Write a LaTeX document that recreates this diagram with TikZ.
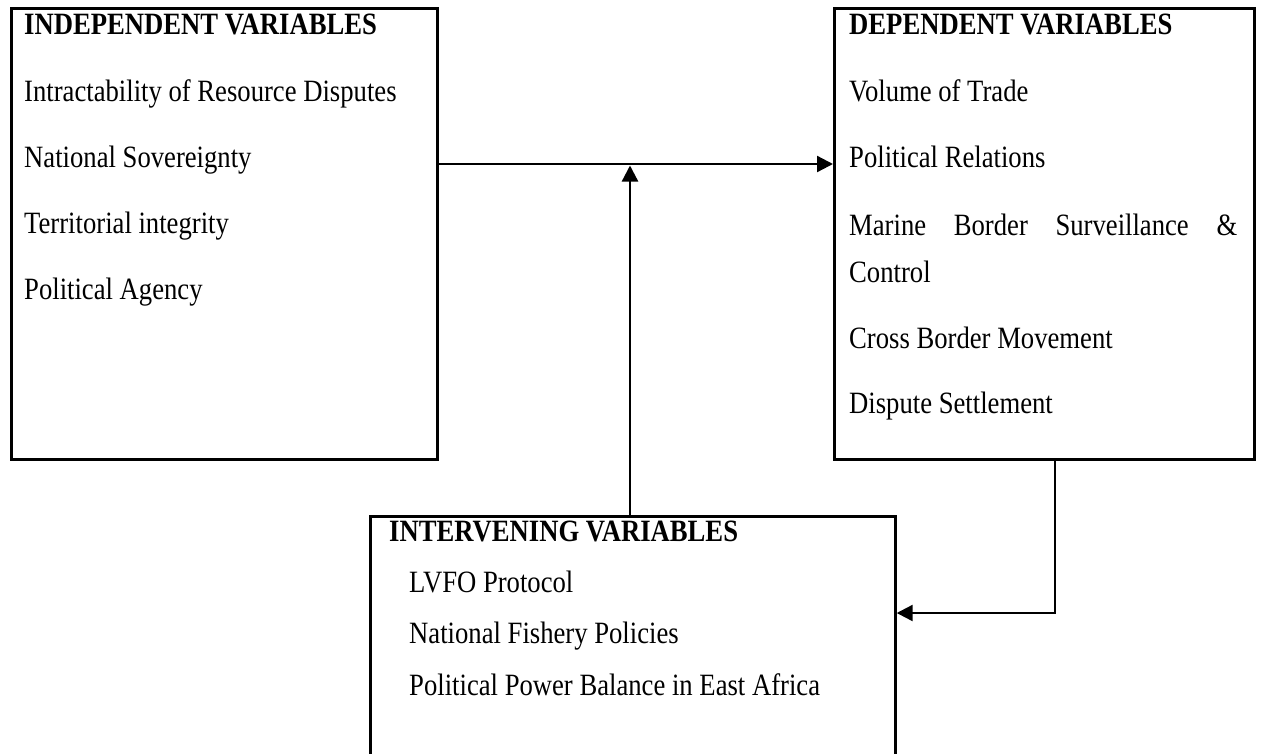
\documentclass[tikz,border=0pt]{standalone}
\usepackage{fontspec}
\setmainfont{Liberation Serif}[FakeStretch=0.86]
\usetikzlibrary{arrows.meta}
\begin{document}
\begin{tikzpicture}[x=1pt,y=-1pt,
  box/.style={draw, line width=2.7pt, inner sep=0pt, anchor=north west},
  lbl/.style={anchor=base west, inner sep=0pt, font=\fontsize{31}{36}\selectfont},
  hd/.style={anchor=base west, inner sep=0pt, font=\fontsize{31}{36}\selectfont\bfseries},
  conn/.style={line width=2.3pt, -{Triangle[length=16pt,width=16pt]}}]
\useasboundingbox (0,0) rectangle (1261,753);
\clip (0,0) rectangle (1261,753);
% boxes
\node[box, minimum width=426pt, minimum height=451pt] (ind) at (10,7) {};
\node[box, minimum width=420pt, minimum height=451pt] (dep) at (833,7) {};
\node[box, minimum width=525pt, minimum height=260pt] (int) at (369,515) {};
% independent
\node[hd]  (t1) at (24,34)  {INDEPENDENT VARIABLES};
\node[lbl] (a1) at (24,101) {Intractability of Resource Disputes};
\node[lbl] (a2) at (24,167) {National Sovereignty};
\node[lbl] (a3) at (24,233) {Territorial integrity};
\node[lbl] (a4) at (24,299) {Political Agency};
% dependent
\node[hd]  (t2) at (849,34)  {DEPENDENT VARIABLES};
\node[lbl] (b1) at (849,101) {Volume of Trade};
\node[lbl] (b2) at (849,167) {Political Relations};
\node[lbl] (b3) at (849,235) {\makebox[388pt][s]{Marine Border Surveillance \&}};
\node[lbl] (b4) at (849,282) {Control};
\node[lbl] (b5) at (849,348) {Cross Border Movement};
\node[lbl] (b6) at (849,413) {Dispute Settlement};
% intervening
\node[hd]  (t3) at (389,541) {INTERVENING VARIABLES};
\node[lbl] (c1) at (409,592) {LVFO Protocol};
\node[lbl] (c2) at (409,643) {National Fishery Policies};
\node[lbl] (c3) at (409,695) {Political Power Balance in East Africa};
% connectors
\coordinate (j) at (630,164);
\coordinate (k) at (1055,613);
\draw[conn] (ind.east |- j) -- (dep.west |- j);
\draw[conn, shorten >=1.5pt] (int.north -| j) -- (j);
\draw[conn] (dep.south -| k) -- (k) -- (int.east |- k);
\end{tikzpicture}
\end{document}
